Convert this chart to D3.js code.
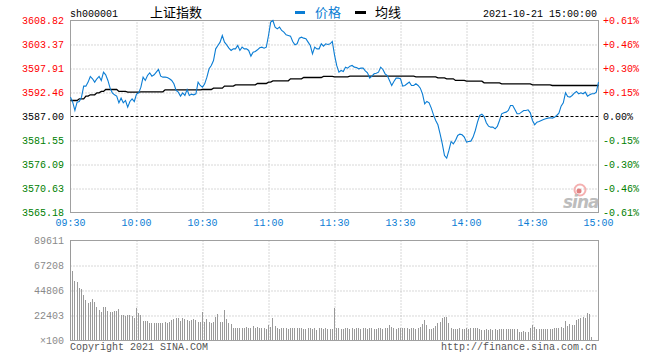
<!DOCTYPE html>
<html><head><meta charset="utf-8">
<script src="https://cdn.jsdelivr.net/npm/d3@7"></script>
<style>
html,body{margin:0;padding:0;background:#fff;}
svg{display:block;}
</style></head><body>
<svg id="c" width="660" height="360"></svg>
<script>
const symbol = "sh000001";
const title = "上证指数";
const stamp = "2021-10-21 15:00:00";
const legendNames = ["价格", "均线"];
const timeLabels = ["09:30","10:00","10:30","11:00","11:30","13:30","14:00","14:30","15:00"];
const priceTicks = [3608.82,3603.37,3597.91,3592.46,3587.00,3581.55,3576.09,3570.63,3565.18];
const pctTicks = ["+0.61%","+0.46%","+0.30%","+0.15%","0.00%","-0.15%","-0.30%","-0.46%","-0.61%"];
const prevClose = 3587.00;
const volTicks = [89611,67208,44806,22403,0];
const volTickLabels = ["89611","67208","44806","22403","×100"];
const copyrightText = "Copyright 2021 SINA.COM";
const siteText = "http://finance.sina.com.cn";

const price = [
3591.40,3590.26,3588.37,3590.26,3590.41,3591.40,3593.90,3593.90,3594.81,3596.10,
3595.57,3594.81,3595.57,3596.10,3595.19,3597.08,3596.47,3595.19,3593.44,3592.38,
3591.93,3591.63,3590.11,3591.17,3590.11,3590.64,3589.13,3590.41,3591.02,3590.41,
3592.08,3592.38,3593.67,3595.94,3595.19,3596.32,3596.93,3596.17,3596.47,3597.08,
3597.69,3596.17,3595.94,3595.94,3595.87,3595.57,3595.19,3594.43,3592.91,3592.54,
3591.63,3592.38,3591.78,3593.14,3591.78,3592.08,3591.93,3592.16,3594.81,3594.05,
3593.67,3594.43,3595.94,3597.84,3598.60,3599.73,3602.38,3603.14,3603.90,3605.41,
3603.90,3603.29,3602.54,3602.01,3602.38,3602.38,3603.14,3602.01,3602.76,3602.38,
3602.38,3602.01,3600.72,3601.63,3601.78,3602.16,3602.61,3602.76,3602.54,3602.76,
3605.41,3608.44,3608.82,3607.31,3606.93,3607.31,3606.55,3606.17,3605.57,3605.41,
3605.26,3604.05,3603.29,3603.52,3604.81,3605.04,3604.81,3604.66,3603.90,3603.14,
3601.25,3602.76,3602.38,3602.38,3603.52,3602.99,3603.52,3603.37,3603.52,3604.05,
3601.02,3598.60,3597.08,3597.46,3597.23,3598.22,3597.99,3598.44,3598.60,3598.22,
3598.14,3597.84,3597.99,3597.99,3597.38,3596.93,3595.72,3596.17,3596.70,3596.85,
3597.08,3598.22,3597.69,3596.70,3596.32,3595.19,3594.05,3594.96,3595.72,3595.72,
3595.57,3593.90,3594.05,3594.43,3594.81,3594.05,3594.05,3594.43,3594.05,3593.44,
3592.16,3589.88,3590.41,3590.11,3588.90,3587.38,3586.10,3585.11,3583.07,3580.79,
3578.14,3577.53,3579.28,3581.32,3580.79,3581.55,3582.69,3582.99,3582.84,3582.31,
3581.17,3581.32,3581.40,3582.31,3583.82,3585.72,3587.23,3587.53,3587.00,3585.57,
3584.81,3584.58,3584.58,3584.20,3584.73,3586.10,3587.61,3587.84,3587.99,3588.37,
3589.50,3589.50,3588.60,3587.61,3587.61,3587.99,3588.37,3588.37,3588.52,3587.84,
3586.10,3585.11,3585.72,3585.87,3586.10,3586.32,3586.47,3586.63,3586.70,3586.63,
3586.85,3587.23,3587.76,3589.35,3590.11,3592.38,3591.55,3591.40,3591.78,3592.31,
3592.69,3592.16,3592.38,3592.16,3592.54,3591.63,3591.93,3592.16,3592.16,3592.54,3594.81
];

const avgPrice = [
3590.64,3590.64,3590.64,3590.64,3591.02,3591.02,3591.02,3591.63,3591.63,3591.93,
3591.93,3591.93,3592.38,3592.38,3592.69,3592.69,3593.14,3593.14,3593.14,3593.14,
3593.14,3593.14,3592.69,3592.69,3592.69,3592.69,3592.54,3592.54,3592.54,3592.54,
3592.54,3592.54,3592.61,3592.61,3592.61,3592.61,3592.61,3592.61,3592.61,3592.61,
3592.61,3592.61,3592.61,3593.07,3593.07,3593.07,3593.07,3593.07,3593.07,3593.07,
3593.07,3593.07,3593.07,3593.07,3593.07,3593.07,3593.07,3593.07,3593.07,3593.07,
3593.14,3593.14,3593.14,3593.14,3593.14,3593.44,3593.44,3593.44,3593.44,3593.44,
3593.90,3593.90,3593.90,3593.90,3593.90,3594.20,3594.20,3594.20,3594.20,3594.20,
3594.20,3594.20,3594.20,3594.20,3594.20,3594.50,3594.50,3594.50,3594.50,3594.50,
3594.81,3594.81,3595.11,3595.11,3595.11,3595.11,3595.11,3595.11,3595.11,3595.11,
3595.57,3595.57,3595.57,3595.57,3595.57,3595.57,3595.87,3595.87,3595.87,3595.87,
3595.87,3595.87,3595.87,3595.87,3595.87,3596.10,3596.10,3596.10,3596.10,3596.10,
3596.02,3596.02,3596.02,3596.02,3596.02,3596.02,3596.02,3596.17,3596.17,3596.17,
3596.17,3596.17,3596.17,3596.17,3596.17,3596.17,3596.17,3596.17,3596.17,3596.17,
3596.17,3596.17,3596.17,3596.17,3596.17,3596.17,3596.17,3596.17,3596.17,3596.17,
3596.17,3596.17,3596.17,3596.17,3596.17,3596.17,3596.17,3596.02,3596.02,3596.02,
3596.02,3596.02,3596.02,3596.02,3596.02,3596.02,3596.02,3595.79,3595.79,3595.79,
3595.79,3595.57,3595.57,3595.57,3595.57,3595.19,3595.19,3595.19,3595.19,3595.19,
3595.04,3595.04,3595.04,3595.04,3595.04,3595.04,3595.04,3595.04,3594.66,3594.66,
3594.66,3594.66,3594.66,3594.66,3594.66,3594.66,3594.43,3594.43,3594.43,3594.43,
3594.43,3594.43,3594.43,3594.43,3594.43,3594.43,3594.43,3594.43,3594.43,3594.43,
3594.20,3594.20,3594.20,3594.20,3594.20,3594.20,3594.20,3594.20,3594.20,3594.05,
3594.05,3594.05,3594.05,3594.05,3594.05,3594.05,3594.05,3594.05,3594.05,3594.05,
3594.05,3594.05,3594.05,3594.05,3594.05,3594.05,3594.05,3594.05,3594.05,3594.05,3594.05
];

const volume = [
89611,62130,53170,52270,46300,45400,40320,35840,33450,34350,
36740,34350,29870,26880,25390,29270,29270,25990,24790,24790,
25690,26290,27780,22400,22100,21500,22100,22400,21500,20010,
28380,23900,22400,17320,17320,17320,15530,15530,15530,14930,
15530,14930,15530,15800,15530,16430,17920,18520,19420,19420,
17320,19420,18820,17920,17320,17920,18820,17920,16430,16430,
24790,16430,18520,16430,14930,16430,20310,23300,16430,16430,
26880,18820,14930,14040,11050,11050,11050,11050,10450,11050,
11950,10450,11050,12500,11050,11950,11050,11050,10450,9860,
13440,11950,19420,12500,10450,9860,11050,11050,11050,9860,
11050,11050,11050,11050,11050,11050,9860,9860,10450,11050,
9860,10450,8960,10450,11050,9860,10450,9860,9560,9560,
28970,11050,11050,9860,9860,10450,10450,9860,10450,9860,
11050,10450,9860,11050,10450,9860,10450,11050,9860,9560,
10450,11050,9860,10450,11050,13440,11950,10450,9860,11050,
11050,10450,11050,10450,9860,10450,11050,9860,10450,11950,
14040,17920,13440,9860,10150,11050,12800,15530,16430,19420,
20310,20910,15530,10450,10150,9860,9860,10450,9860,10150,
11050,9860,11050,11050,11050,10450,9560,8960,8960,9560,
8960,9860,8960,9560,8960,9860,9860,9560,9560,9860,
9560,9560,9860,9560,7470,7470,7770,7470,7470,10450,
13440,11950,9860,9560,9860,9560,9560,9860,9560,9560,
11050,11050,11050,11650,11050,17320,12800,14330,13440,13440,
17920,18820,19420,20310,20010,24490,23300,2990,0,0,0
];

const MONO = "'Liberation Mono','DejaVu Sans Mono',monospace";
const CJK = "'Noto Sans CJK SC','Noto Sans',sans-serif";
const BLUE = "#0b7dd4";
const GRID = "#b0b0b0";
const BORDER = "#a0a0a0";

const svg = d3.select("#c");
const L = 70, R = 598, T = 20, B = 212, VT = 240, VB = 340;

const x = d3.scaleLinear().domain([0, 240]).range([L, R]);
const y = d3.scaleLinear().domain([priceTicks[priceTicks.length-1], priceTicks[0]]).range([B, T]);
const yv = d3.scaleLinear().domain([0, volTicks[0]]).range([VB, VT]);
const timeIdx = d3.range(0, 241, 30);

// ---------- header ----------
svg.append("text").attr("x", 70).attr("y", 17).attr("font-family", MONO).attr("font-size", 10)
  .attr("fill", "#000").text(symbol);
svg.append("text").attr("x", 150).attr("y", 17).attr("font-family", CJK).attr("font-size", 13)
  .attr("fill", "#000").text(title);
svg.append("rect").attr("x", 295).attr("y", 11).attr("width", 10).attr("height", 3).attr("fill", BLUE);
svg.append("text").attr("x", 315).attr("y", 17).attr("font-family", CJK).attr("font-size", 13)
  .attr("fill", BLUE).text(legendNames[0]);
svg.append("rect").attr("x", 355).attr("y", 11).attr("width", 11).attr("height", 3).attr("fill", "#000");
svg.append("text").attr("x", 375).attr("y", 17).attr("font-family", CJK).attr("font-size", 13)
  .attr("fill", "#000").text(legendNames[1]);
svg.append("text").attr("x", 597).attr("y", 17).attr("text-anchor", "end").attr("font-family", MONO)
  .attr("font-size", 10).attr("fill", "#000").text(stamp);

// ---------- price panel ----------
const g = svg.append("g").attr("transform", "translate(0.5,0.5)");

g.append("g").attr("transform", `translate(0,${B})`)
  .call(d3.axisBottom(x).tickValues(timeIdx.slice(1, -1)).tickSize(-(B - T)).tickFormat(""))
  .call(a => { a.select(".domain").remove();
    a.selectAll("line").attr("stroke", GRID).attr("stroke-dasharray", "1,2"); });
g.append("g").attr("transform", `translate(${L},0)`)
  .call(d3.axisLeft(y).tickValues(priceTicks.filter((d, i) => i > 0 && i < priceTicks.length - 1 && d !== prevClose))
    .tickSize(-(R - L)).tickFormat(""))
  .call(a => { a.select(".domain").remove();
    a.selectAll("line").attr("stroke", GRID).attr("stroke-dasharray", "1,2"); });
g.append("line").attr("x1", L).attr("x2", R).attr("y1", y(prevClose)).attr("y2", y(prevClose))
  .attr("stroke", "#000").attr("stroke-dasharray", "3,2");

g.append("rect").attr("x", L).attr("y", T).attr("width", R - L).attr("height", B - T)
  .attr("fill", "none").attr("stroke", BORDER);

const colorFor = d => d > prevClose ? "#ff0000" : (d < prevClose ? "#008000" : "#000");
svg.append("g").attr("transform", `translate(${L},0)`)
  .call(d3.axisLeft(y).tickValues(priceTicks).tickSize(0).tickPadding(6).tickFormat(d => d.toFixed(2)))
  .call(a => { a.select(".domain").remove();
    a.attr("font-family", MONO).attr("font-size", 10);
    a.selectAll("text").attr("fill", d => colorFor(d)); });
svg.append("g").attr("transform", `translate(${R},0)`)
  .call(d3.axisRight(y).tickValues(priceTicks).tickSize(0).tickPadding(5).tickFormat((d, i) => pctTicks[i]))
  .call(a => { a.select(".domain").remove();
    a.attr("font-family", MONO).attr("font-size", 10);
    a.selectAll("text").attr("fill", d => colorFor(d)); });
svg.append("g").attr("transform", `translate(0,${B})`)
  .call(d3.axisBottom(x).tickValues(timeIdx).tickSize(0).tickPadding(7).tickFormat((d, i) => timeLabels[i]))
  .call(a => { a.select(".domain").remove();
    a.attr("font-family", MONO).attr("font-size", 10);
    a.selectAll("text").attr("fill", BLUE); });

// watermark
const wm = svg.append("g");
wm.append("circle").attr("cx", 580).attr("cy", 190).attr("r", 5.5).attr("fill", "none")
  .attr("stroke", "#f4b0b0").attr("stroke-width", 2);
wm.append("circle").attr("cx", 579).attr("cy", 191).attr("r", 2.5).attr("fill", "#e08080");
wm.append("text").attr("x", 563).attr("y", 208).attr("font-family", "'DejaVu Sans',sans-serif")
  .attr("font-size", 17).attr("font-weight", "bold").attr("font-style", "italic")
  .attr("letter-spacing", -1).attr("fill", "#bdbdbd").text("sina");

// lines
const lineGen = d3.line().x((d, i) => x(i)).y(d => y(d));
g.append("path").datum(avgPrice).attr("d", lineGen).attr("fill", "none")
  .attr("stroke", "#000").attr("stroke-width", 1.3);
g.append("path").datum(price).attr("d", lineGen).attr("fill", "none")
  .attr("stroke", BLUE).attr("stroke-width", 1.1);

// ---------- volume panel ----------
const gv = svg.append("g").attr("transform", "translate(0.5,0.5)");
gv.append("g").attr("transform", `translate(0,${VB})`)
  .call(d3.axisBottom(x).tickValues(timeIdx.slice(1, -1)).tickSize(-(VB - VT)).tickFormat(""))
  .call(a => { a.select(".domain").remove();
    a.selectAll("line").attr("stroke", GRID).attr("stroke-dasharray", "1,2"); });
gv.append("g").attr("transform", `translate(${L},0)`)
  .call(d3.axisLeft(yv).tickValues(volTicks.slice(1, -1)).tickSize(-(R - L)).tickFormat(""))
  .call(a => { a.select(".domain").remove();
    a.selectAll("line").attr("stroke", GRID).attr("stroke-dasharray", "1,2"); });
gv.append("rect").attr("x", L).attr("y", VT).attr("width", R - L).attr("height", VB - VT)
  .attr("fill", "none").attr("stroke", BORDER);

svg.append("g").attr("shape-rendering", "crispEdges").selectAll("rect")
  .data(volume.map((v, i) => ({ v, i })).filter(d => d.v > 0)).join("rect")
  .attr("x", d => Math.round(x(d.i)))
  .attr("width", 1)
  .attr("y", d => Math.round(yv(d.v)))
  .attr("height", d => VB - Math.round(yv(d.v)))
  .attr("fill", "#9a9a9a");

svg.append("g").attr("transform", `translate(${L},0)`)
  .call(d3.axisLeft(yv).tickValues(volTicks).tickSize(0).tickPadding(6).tickFormat((d, i) => volTickLabels[i]))
  .call(a => { a.select(".domain").remove();
    a.attr("font-family", MONO).attr("font-size", 10);
    a.selectAll("text").attr("fill", "#8a8a8a"); });

svg.append("text").attr("x", 70).attr("y", 350).attr("font-family", MONO).attr("font-size", 10)
  .attr("fill", "#555").text(copyrightText);
svg.append("text").attr("x", 597).attr("y", 350).attr("text-anchor", "end").attr("font-family", MONO)
  .attr("font-size", 10).attr("fill", "#555").text(siteText);
</script>
</body></html>
